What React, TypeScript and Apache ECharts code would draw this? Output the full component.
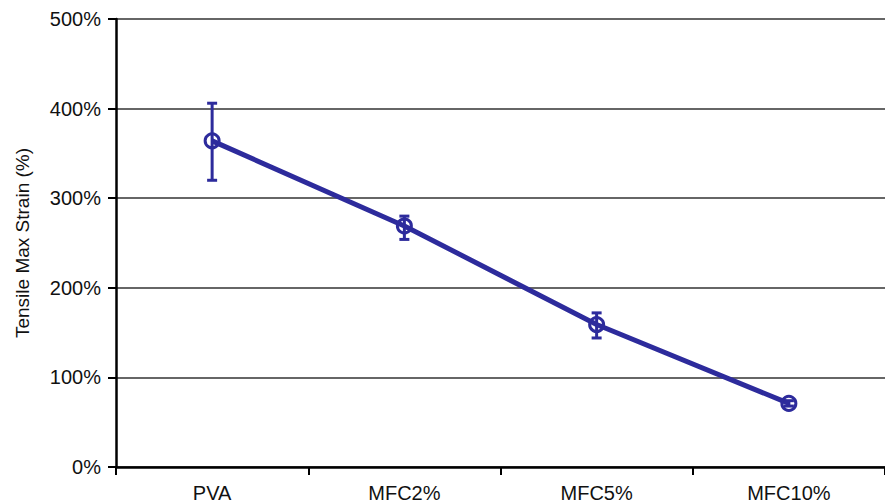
import React, { useEffect, useRef } from "react";
import * as echarts from "echarts";

const categories = ["PVA", "MFC2%", "MFC5%", "MFC10%"];
const strainMean = [364, 269, 159, 71];
const strainLow = [320, 254, 144, 68];
const strainHigh = [406, 280, 172, 74];
const yTicks = [0, 100, 200, 300, 400, 500];

const COLOR = "#2d2b9c";
const FONT = "Liberation Sans, Arial, Helvetica, sans-serif";

export default function App() {
  const ref = useRef<HTMLDivElement>(null);
  useEffect(() => {
    document.body.style.margin = "0";
    const chart = echarts.init(ref.current!, null, { renderer: "svg" });
    const errData = categories.map((_, i) => [i, strainLow[i], strainHigh[i]]);
    chart.setOption({
      animation: false,
      backgroundColor: "#ffffff",
      grid: { left: 116, top: 19, width: 774, height: 450, containLabel: false },
      xAxis: {
        type: "category",
        data: categories,
        boundaryGap: true,
        axisLine: { lineStyle: { color: "#000", width: 2.5 } },
        axisTick: { show: true, length: 8, lineStyle: { color: "#000", width: 2 } },
        axisLabel: { color: "#111", fontSize: 20, fontFamily: FONT, margin: 16 },
        splitLine: { show: false },
      },
      yAxis: {
        type: "value",
        min: yTicks[0],
        max: yTicks[yTicks.length - 1],
        interval: 100,
        name: "Tensile Max Strain (%)",
        nameLocation: "middle",
        nameGap: 84,
        nameTextStyle: { color: "#111", fontSize: 19, fontFamily: FONT },
        axisLine: { show: true, lineStyle: { color: "#000", width: 2.5 } },
        axisTick: { show: true, length: 8, lineStyle: { color: "#000", width: 2 } },
        axisLabel: {
          color: "#111",
          fontSize: 20,
          fontFamily: FONT,
          margin: 15,
          formatter: (v: number) => `${v}%`,
        },
        splitLine: { show: true, lineStyle: { color: "#333", width: 1.5 } },
      },
      series: [
        {
          type: "custom",
          data: errData,
          z: 3,
          renderItem: (params: any, api: any) => {
            const x = api.value(0);
            const lo = api.coord([x, api.value(1)]);
            const hi = api.coord([x, api.value(2)]);
            const hw = 5;
            const style = { stroke: COLOR, lineWidth: 3 };
            return {
              type: "group",
              children: [
                { type: "line", shape: { x1: lo[0], y1: lo[1], x2: hi[0], y2: hi[1] }, style },
                { type: "line", shape: { x1: lo[0] - hw, y1: lo[1], x2: lo[0] + hw, y2: lo[1] }, style },
                { type: "line", shape: { x1: hi[0] - hw, y1: hi[1], x2: hi[0] + hw, y2: hi[1] }, style },
              ],
            };
          },
        },
        {
          type: "line",
          data: strainMean,
          z: 4,
          symbol: "circle",
          symbolSize: 14,
          lineStyle: { color: COLOR, width: 5 },
          itemStyle: { color: "rgba(0,0,0,0)", borderColor: COLOR, borderWidth: 3 },
        },
      ],
    });
    return () => chart.dispose();
  }, []);
  return <div ref={ref} style={{ width: 885, height: 503 }} />;
}
